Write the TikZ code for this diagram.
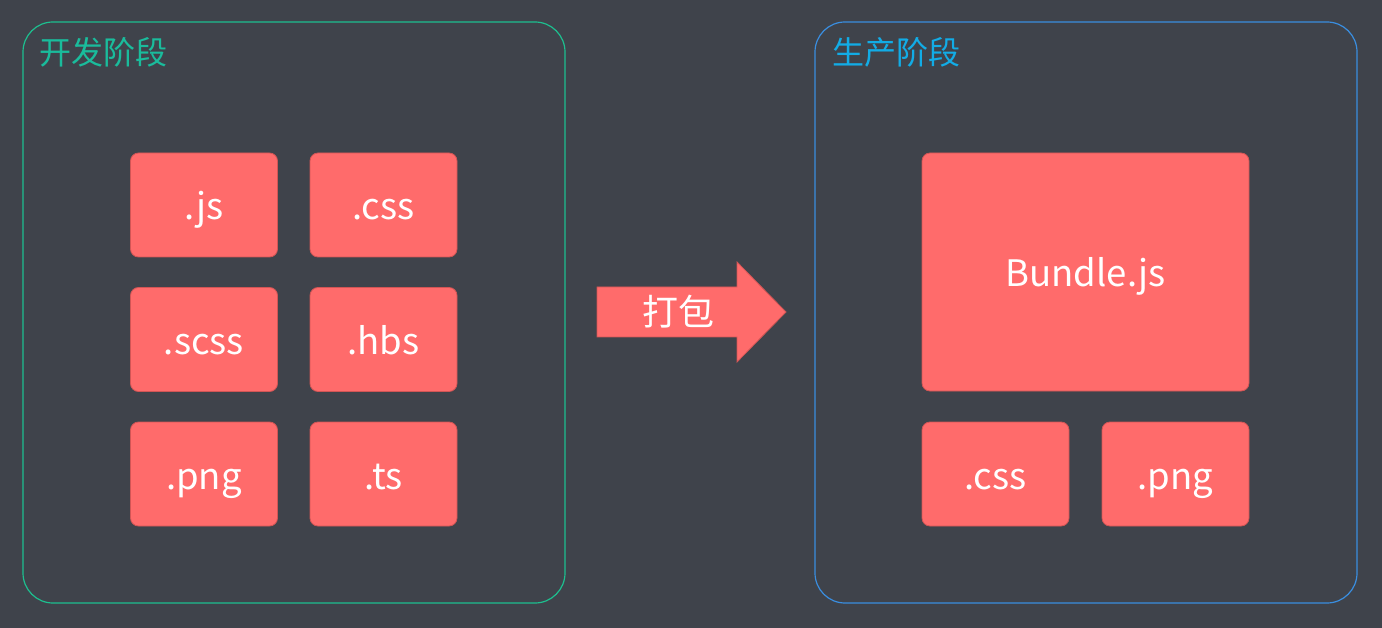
\documentclass[tikz,border=0pt]{standalone}
\usepackage{fontspec}
\setmainfont{Noto Sans CJK SC}
\newfontfamily\cjk{Noto Sans CJK SC}
\definecolor{bg}{HTML}{3F434B}
\definecolor{boxred}{HTML}{FF6B6B}
\definecolor{boxedge}{HTML}{D25555}
\definecolor{devgreen}{HTML}{1DBF8F}
\definecolor{devtitle}{HTML}{1ABC9C}
\definecolor{prodblue}{HTML}{3A8EE0}
\definecolor{prodtitle}{HTML}{12ACE6}
\tikzset{
  filebox/.style={draw=boxedge, line width=0.8pt, fill=boxred, rounded corners=8pt, text=white,
    font=\fontsize{36.5}{42}\selectfont, text height=35pt, text depth=5pt},
  smallfile/.style={filebox, minimum width=147pt, minimum height=104pt},
  stage/.style={line width=1.2pt, rounded corners=30pt},
  stagetitle/.style={anchor=west, font=\fontsize{32}{38}\selectfont}
}
\begin{document}
\begin{tikzpicture}[x=1pt,y=-1pt]
\fill[bg] (0,0) rectangle (1382,628);
\useasboundingbox (0,0) rectangle (1382,628);
% containers
\draw[stage, draw=devgreen] (23,22) rectangle (565,603);
\node[stagetitle, text=devtitle] (t1) at (35.5,52) {开发阶段};
\draw[stage, draw=prodblue] (815,22) rectangle (1357,603);
\node[stagetitle, text=prodtitle] (t2) at (828.5,52) {生产阶段};
% left files
\node[smallfile] (js) at (204,205) {.js};
\node[smallfile] (css) at (383.5,205) {.css};
\node[smallfile] (scss) at (204,339.5) {.scss};
\node[smallfile] (hbs) at (383.5,339.5) {.hbs};
\node[smallfile] (png) at (204,474) {.png};
\node[smallfile] (ts) at (383.5,474) {.ts};
% right files
\node[filebox, minimum width=327pt, minimum height=238pt] (bundle) at (1085.5,272) {Bundle.js};
\node[smallfile] (css2) at (995.5,474) {.css};
\node[smallfile] (png2) at (1175.5,474) {.png};
% arrow
\draw[draw=boxedge, line width=0.8pt, fill=boxred] (597,287) -- (737,287) -- (737,262) -- (786,312) -- (737,362) -- (737,337) -- (597,337) -- cycle;
\node[text=white, font=\fontsize{36}{42}\selectfont] (pack) at (678,312) {打包};
\end{tikzpicture}
\end{document}
